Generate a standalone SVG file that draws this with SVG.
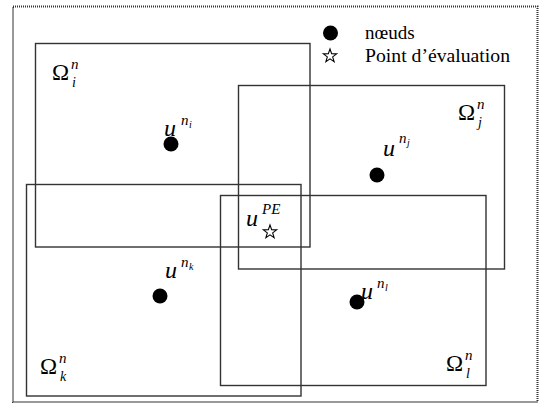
<svg xmlns="http://www.w3.org/2000/svg" width="540" height="404" viewBox="0 0 540 404">
<style>
.bx{fill:none;stroke:#333;stroke-width:1.4}
text{font-family:'Liberation Serif',serif;fill:#000}
.om{font-size:23px}
.it{font-style:italic}
.u{font-size:24px}
.sup{font-size:15px}
.sub{font-size:10px}
.ssub{font-size:14px}
.lg{font-size:19px}
.dot{fill:#000}
.star{fill:#fff;stroke:#000;stroke-width:1.1;stroke-linejoin:miter}
</style>
<defs>
<path id="st" d="M0,-7 L1.65,-2.27 L6.66,-2.16 L2.67,0.87 L4.11,5.66 L0,2.8 L-4.11,5.66 L-2.67,0.87 L-6.66,-2.16 L-1.65,-2.27 Z"/>
</defs>
<rect x="0" y="0" width="540" height="404" fill="#fff"/>
<rect x="13" y="6.5" width="524.5" height="395.5" fill="none" stroke="#333" stroke-width="2" stroke-dasharray="1 1"/>
<g id="connectors"></g>
<g id="box-i"><rect class="bx" x="35.5" y="43.5" width="274.5" height="203.5" stroke="#555"/></g>
<g id="box-j"><rect class="bx" x="238.5" y="85.5" width="266" height="183.5" stroke="#111"/></g>
<g id="box-k"><rect class="bx" x="26.5" y="184.5" width="274.5" height="211.5" stroke="#444"/></g>
<g id="box-l"><rect class="bx" x="220.5" y="195.5" width="265.5" height="190" stroke="#555"/></g>
<g id="omega-i"><text class="om" x="52" y="80">Ω</text><text class="it sup" x="71" y="69">n</text><text class="it ssub" x="72" y="87">i</text></g>
<g id="omega-j"><text class="om" x="458" y="120">Ω</text><text class="it sup" x="477" y="109">n</text><text class="it ssub" x="478" y="127">j</text></g>
<g id="omega-k"><text class="om" x="40" y="374">Ω</text><text class="it sup" x="59" y="363">n</text><text class="it ssub" x="60" y="381">k</text></g>
<g id="omega-l"><text class="om" x="446" y="371">Ω</text><text class="it sup" x="465" y="360">n</text><text class="it ssub" x="466" y="378">l</text></g>
<g id="node-i"><circle class="dot" cx="171" cy="144" r="7.5"/><text class="it u" x="164" y="136">u</text><text class="it sup" x="181" y="125">n</text><text class="it sub" x="189" y="128">i</text></g>
<g id="node-j"><circle class="dot" cx="377" cy="175" r="7.5"/><text class="it u" x="383" y="156">u</text><text class="it sup" x="399" y="143">n</text><text class="it sub" x="407" y="146">j</text></g>
<g id="node-k"><circle class="dot" cx="160" cy="296" r="7.5"/><text class="it u" x="165" y="278">u</text><text class="it sup" x="181" y="267">n</text><text class="it sub" x="189" y="270">k</text></g>
<g id="node-l"><circle class="dot" cx="357" cy="302" r="7.5"/><text class="it u" x="361" y="299">u</text><text class="it sup" x="377" y="288">n</text><text class="it sub" x="385" y="291">l</text></g>
<g id="eval-point"><use href="#st" class="star" x="270" y="232"/><text class="it u" x="246" y="226">u</text><text class="it sup" x="262" y="214">PE</text></g>
<g id="legend">
<circle class="dot" cx="330.5" cy="33" r="7.5"/>
<text class="lg" x="365" y="39">nœuds</text>
<use href="#st" class="star" x="330" y="56"/>
<text class="lg" x="365" y="62" textLength="145" lengthAdjust="spacingAndGlyphs">Point d’évaluation</text>
</g>
</svg>
